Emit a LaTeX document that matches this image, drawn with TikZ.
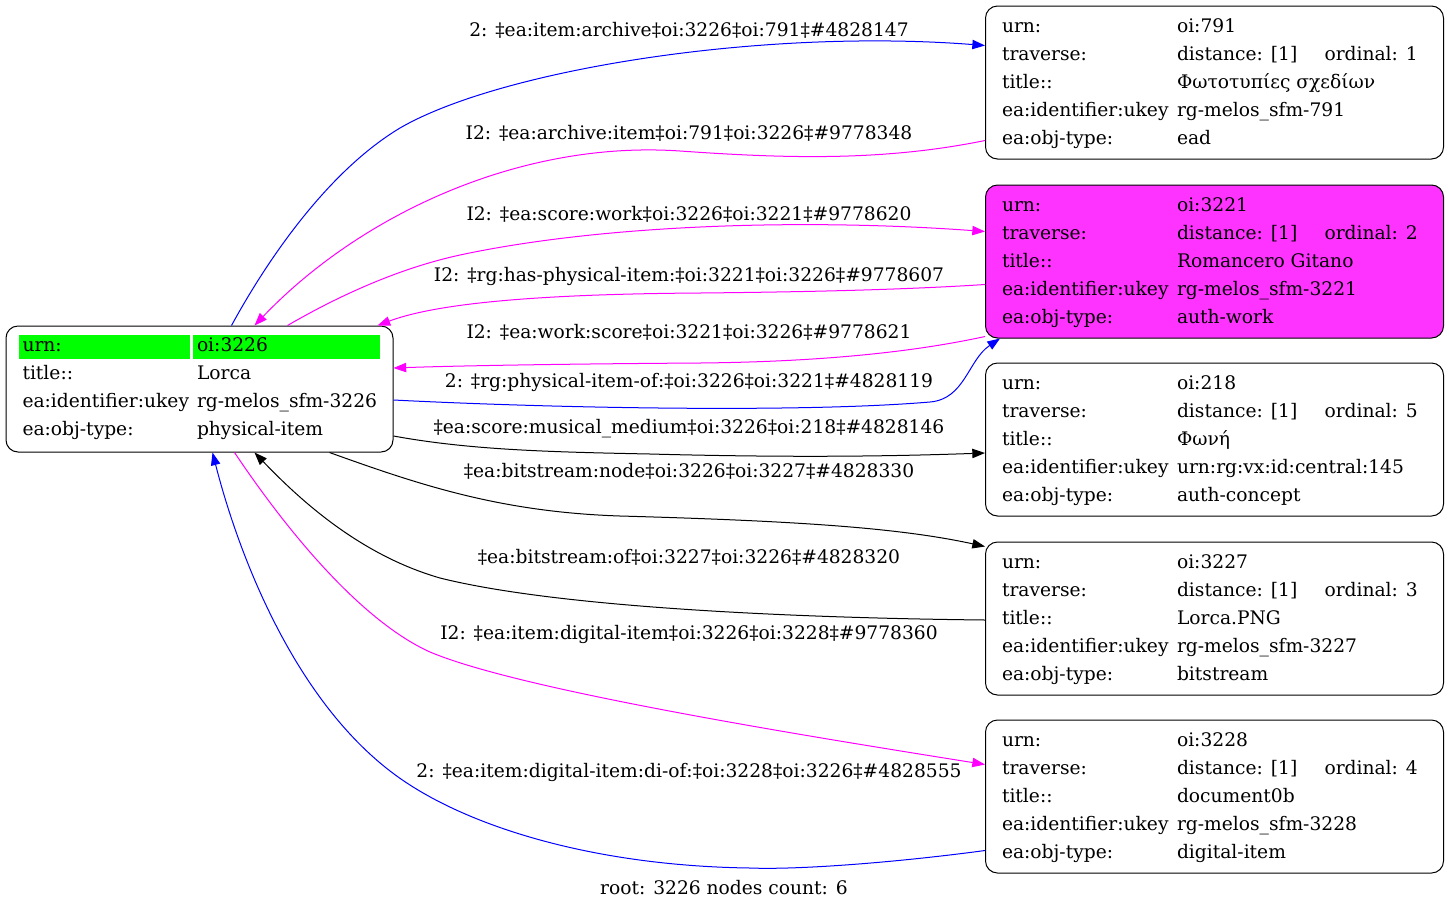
\documentclass[tikz,border=0pt]{standalone}
\usepackage{fontspec}
\setmainfont{DejaVu Serif}
\usepackage{tikz}
\usetikzlibrary{calc,arrows.meta}

\definecolor{nodepink}{RGB}{255,51,255}
\definecolor{edgepink}{RGB}{255,0,255}
\definecolor{rootgreen}{RGB}{0,255,0}

\begin{document}
\begin{tikzpicture}[x=0.75pt, y=-0.75pt,
    every node/.style={font=\fontsize{14}{17}\selectfont},
    box/.style={draw=black, line width=0.75pt, rounded corners=9pt, inner sep=0pt,
                minimum width=343.5pt, minimum height=114.75pt},
    txt/.style={anchor=base west, inner sep=0pt},
    lbl/.style={anchor=base, inner sep=0pt},
    every path/.style={line width=0.75pt},
    blu/.style={draw=blue, -{Triangle[length=9.5pt,width=7pt]}},
    pnk/.style={draw=edgepink, -{Triangle[length=9.5pt,width=7pt]}},
    blk/.style={draw=black, -{Triangle[length=9.5pt,width=7pt]}}]
				\useasboundingbox (0,0) rectangle (1449,911);
				
				% boxes
				\node[box, minimum width=290.25pt, minimum height=94.5pt] (n3226) at (199.5,389){};
				\node[box] (n791) at (1214.5,82.5){};
				\node[box, fill=nodepink] (n3221) at (1214.5,261.5){};
				\node[box] (n218) at (1214.5,439.5){};
				\node[box] (n3227) at (1214.5,618.5){};
				\node[box] (n3228) at (1214.5,796.5){};
				
				% root table
				\fill[rootgreen] ($(n3226.north west)+(13,9)$) rectangle ($(n3226.north west)+(184.5,33)$);
				\fill[rootgreen] ($(n3226.north west)+(187.5,9)$) rectangle ($(n3226.north west)+(374.5,33)$);
				\node[txt] (r-k1) at ($(n3226.north west)+(16.5,26)$){urn:};
				\node[txt] (r-k2) at ($(n3226.north west)+(16.5,54)$){title::};
				\node[txt] (r-k3) at ($(n3226.north west)+(16.5,82)$){ea:identifier:ukey};
				\node[txt] (r-k4) at ($(n3226.north west)+(16.5,110)$){ea:obj-type:};
				\node[txt] (r-v1) at ($(n3226.north west)+(191,26)$){oi:3226};
				\node[txt] (r-v2) at ($(n3226.north west)+(191,54)$){Lorca};
				\node[txt] (r-v3) at ($(n3226.north west)+(191,82)$){rg-melos\_sfm-3226};
				\node[txt] (r-v4) at ($(n3226.north west)+(191,110)$){physical-item};
				
				% keys of the other tables
				\foreach \b in {n791,n3221,n218,n3227,n3228}{
					\node[txt] (\b-k1) at ($(\b.north west)+(16.5,27)$){urn:};
					\node[txt] (\b-k2) at ($(\b.north west)+(16.5,55)$){traverse:};
					\node[txt] (\b-k3) at ($(\b.north west)+(16.5,83)$){title::};
					\node[txt] (\b-k4) at ($(\b.north west)+(16.5,111)$){ea:identifier:ukey};
					\node[txt] (\b-k5) at ($(\b.north west)+(16.5,139)$){ea:obj-type:};
					\node[txt] (\b-d) at ($(\b.north west)+(191.5,55)$){distance: [1]};
				}
				
				\node[txt] (n791-v1) at ($(n791.north west)+(191.5,27)$){oi:791};
				\node[txt] (n791-o) at ($(n791.north west)+(339,55)$){ordinal: 1};
				\node[txt] (n791-v3) at ($(n791.north west)+(191.5,83)$){Φωτοτυπίες σχεδίων};
				\node[txt] (n791-v4) at ($(n791.north west)+(191.5,111)$){rg-melos\_sfm-791};
				\node[txt] (n791-v5) at ($(n791.north west)+(191.5,139)$){ead};
				
				\node[txt] (n3221-v1) at ($(n3221.north west)+(191.5,27)$){oi:3221};
				\node[txt] (n3221-o) at ($(n3221.north west)+(339,55)$){ordinal: 2};
				\node[txt] (n3221-v3) at ($(n3221.north west)+(191.5,83)$){Romancero Gitano};
				\node[txt] (n3221-v4) at ($(n3221.north west)+(191.5,111)$){rg-melos\_sfm-3221};
				\node[txt] (n3221-v5) at ($(n3221.north west)+(191.5,139)$){auth-work};
				
				\node[txt] (n218-v1) at ($(n218.north west)+(191.5,27)$){oi:218};
				\node[txt] (n218-o) at ($(n218.north west)+(339,55)$){ordinal: 5};
				\node[txt] (n218-v3) at ($(n218.north west)+(191.5,83)$){Φωνή};
				\node[txt] (n218-v4) at ($(n218.north west)+(191.5,111)$){urn:rg:vx:id:central:145};
				\node[txt] (n218-v5) at ($(n218.north west)+(191.5,139)$){auth-concept};
				
				\node[txt] (n3227-v1) at ($(n3227.north west)+(191.5,27)$){oi:3227};
				\node[txt] (n3227-o) at ($(n3227.north west)+(339,55)$){ordinal: 3};
				\node[txt] (n3227-v3) at ($(n3227.north west)+(191.5,83)$){Lorca.PNG};
				\node[txt] (n3227-v4) at ($(n3227.north west)+(191.5,111)$){rg-melos\_sfm-3227};
				\node[txt] (n3227-v5) at ($(n3227.north west)+(191.5,139)$){bitstream};
				
				\node[txt] (n3228-v1) at ($(n3228.north west)+(191.5,27)$){oi:3228};
				\node[txt] (n3228-o) at ($(n3228.north west)+(339,55)$){ordinal: 4};
				\node[txt] (n3228-v3) at ($(n3228.north west)+(191.5,83)$){document0b};
				\node[txt] (n3228-v4) at ($(n3228.north west)+(191.5,111)$){rg-melos\_sfm-3228};
				\node[txt] (n3228-v5) at ($(n3228.north west)+(191.5,139)$){digital-item};
				
				% edge labels
				\node[lbl] (e1) at (689,36){2: ‡ea:item:archive‡oi:3226‡oi:791‡\#4828147};
				\node[lbl] (e2) at (689,139.5){I2: ‡ea:archive:item‡oi:791‡oi:3226‡\#9778348};
				\node[lbl] (e3) at (689,220.5){I2: ‡ea:score:work‡oi:3226‡oi:3221‡\#9778620};
				\node[lbl] (e4) at (689,281){I2: ‡rg:has-physical-item:‡oi:3221‡oi:3226‡\#9778607};
				\node[lbl] (e5) at (689,338){I2: ‡ea:work:score‡oi:3221‡oi:3226‡\#9778621};
				\node[lbl] (e6) at (689,387){2: ‡rg:physical-item-of:‡oi:3226‡oi:3221‡\#4828119};
				\node[lbl] (e7) at (689,433){‡ea:score:musical\_medium‡oi:3226‡oi:218‡\#4828146};
				\node[lbl] (e8) at (689,477){‡ea:bitstream:node‡oi:3226‡oi:3227‡\#4828330};
				\node[lbl] (e9) at (689,563){‡ea:bitstream:of‡oi:3227‡oi:3226‡\#4828320};
				\node[lbl] (e10) at (689,639){I2: ‡ea:item:digital-item‡oi:3226‡oi:3228‡\#9778360};
				\node[lbl] (e11) at (689,777){2: ‡ea:item:digital-item:di-of:‡oi:3228‡oi:3226‡\#4828555};
				\node[lbl] (foot) at (724,894){root: 3226 nodes count: 6};
				
				% edges
				\path[blu] ($(n3226.north west)+(226,0)$) .. controls (270,255) and (330,170) .. (400,128)
					.. controls (500,70) and (760,28) .. ($(n791.north west)+(0,40)$);
				\path[pnk] ($(n791.north west)+(0,135)$) .. controls (880,162) and (780,158) .. (680,151)
					.. controls (520,140) and (360,215) .. ($(n3226.north west)+(249,0)$);
				\path[pnk] ($(n3226.north west)+(282,0)$) .. controls (340,295) and (400,268) .. (460,255)
					.. controls (600,225) and (800,218) .. ($(n3221.north west)+(0,47)$);
				\path[pnk] ($(n3221.north west)+(0,100)$) .. controls (900,290) and (800,292) .. (700,293)
					.. controls (550,294) and (440,302) .. ($(n3226.north west)+(372,0)$);
				\path[pnk] ($(n3221.south west)+(0,-2)$) .. controls (900,355) and (800,362) .. (700,363)
					.. controls (550,364) and (450,366) .. ($(n3226.east)+(0,-21)$);
				\path[blu] ($(n3226.east)+(0,11)$) .. controls (550,408) and (800,413) .. (930,402)
					.. controls (965,399) and (968,360) .. ($(n3221.south west)+(15,0)$);
				\path[blk] ($(n3226.east)+(0,47)$) .. controls (470,450) and (550,452) .. (650,454)
					.. controls (800,458) and (900,456) .. ($(n218.west)+(0,13.5)$);
				\path[blk] ($(n3226.south west)+(324,0)$) .. controls (420,485) and (500,512) .. (620,516)
					.. controls (800,521) and (900,528) .. ($(n3227.north west)+(0,5)$);
				\path[blk] ($(n3227.west)+(0,1.5)$) .. controls (800,618) and (560,608) .. (440,578)
					.. controls (360,555) and (300,500) .. ($(n3226.south west)+(249,0)$);
				\path[pnk] ($(n3226.south west)+(229,0)$) .. controls (300,550) and (370,625) .. (430,652)
					.. controls (520,690) and (800,735) .. ($(n3228.north west)+(0,45)$);
				\path[blu] ($(n3228.north west)+(0,131)$) .. controls (900,862) and (800,870) .. (750,868)
					.. controls (600,866) and (480,830) .. (410,785)
					.. controls (300,715) and (240,560) .. ($(n3226.south west)+(207,0)$);
				\end{tikzpicture}
\end{document}
